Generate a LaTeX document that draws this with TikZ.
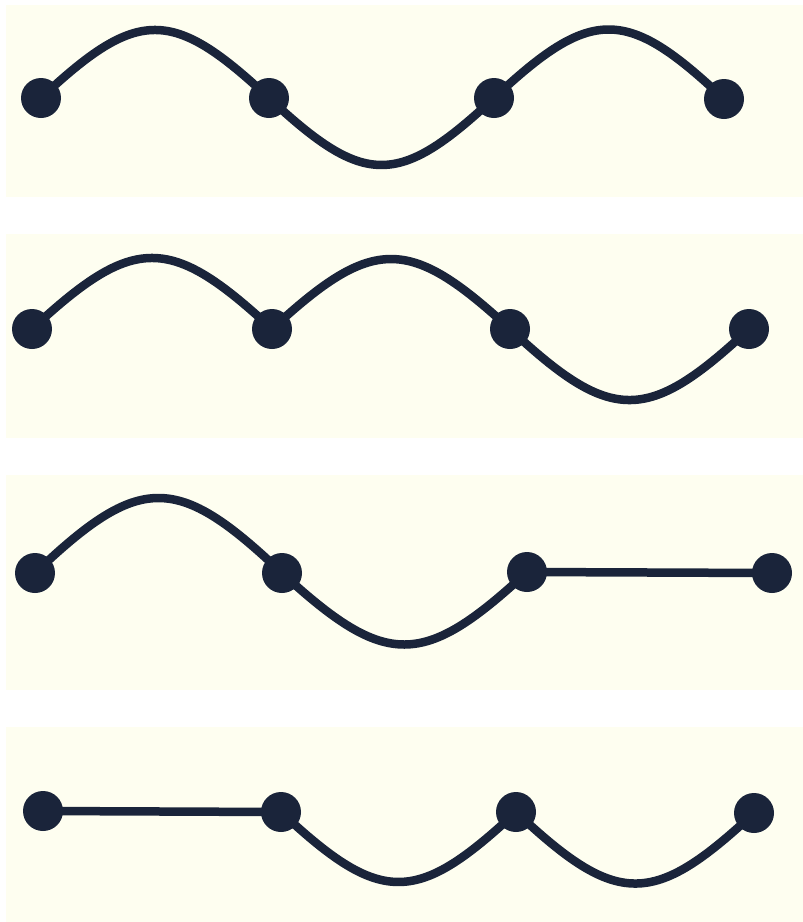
\documentclass[tikz,border=0pt]{standalone}
\usetikzlibrary{calc}
\definecolor{paper}{HTML}{FEFEF0}
\definecolor{ink}{HTML}{1A243A}
\tikzset{
  bead/.style={circle,fill=ink,draw=none,minimum size=40pt,inner sep=0pt},
  wire/.style={draw=ink,line width=8.5pt,line cap=round},
  panel/.style={fill=paper,draw=none},
  arch/.style={to path={.. controls ($(\tikztostart)!0.4244!(\tikztotarget)+(0,#1)$) and ($(\tikztostart)!0.5756!(\tikztotarget)+(0,#1)$) .. (\tikztotarget)}}
}
\begin{document}
\begin{tikzpicture}[x=1pt,y=-1pt]
\useasboundingbox (0,0) rectangle (803,922);
\fill[white] (0,0) rectangle (803,922);
\path[panel] (6,5) rectangle (803,197);
\path[panel] (6,234) rectangle (803,438);
\path[panel] (6,475) rectangle (803,690);
\path[panel] (6,727) rectangle (803,922);
% panel 1
\node[bead] (a1) at (41,98) {};
\node[bead] (a2) at (269,98) {};
\node[bead] (a3) at (494,98) {};
\node[bead] (a4) at (724,99) {};
\draw[wire] (a1.center) to[arch=-90.7] (a2.center) to[arch=89.3] (a3.center) to[arch=-92] (a4.center);
% panel 2
\node[bead] (b1) at (32,329) {};
\node[bead] (b2) at (272,329) {};
\node[bead] (b3) at (510,329) {};
\node[bead] (b4) at (749,329) {};
\draw[wire] (b1.center) to[arch=-94.7] (b2.center) to[arch=-93.3] (b3.center) to[arch=94.7] (b4.center);
% panel 3
\node[bead] (c1) at (35,573) {};
\node[bead] (c2) at (282,573) {};
\node[bead] (c3) at (527,572) {};
\node[bead] (c4) at (772,573) {};
\draw[wire] (c1.center) to[arch=-100] (c2.center) to[arch=96] (c3.center) -- (c4.center);
% panel 4
\node[bead] (d1) at (43,811) {};
\node[bead] (d2) at (281,812) {};
\node[bead] (d3) at (516,812) {};
\node[bead] (d4) at (754,813) {};
\draw[wire] (d1.center) -- (d2.center) to[arch=93.3] (d3.center) to[arch=94.7] (d4.center);
\end{tikzpicture}
\end{document}
